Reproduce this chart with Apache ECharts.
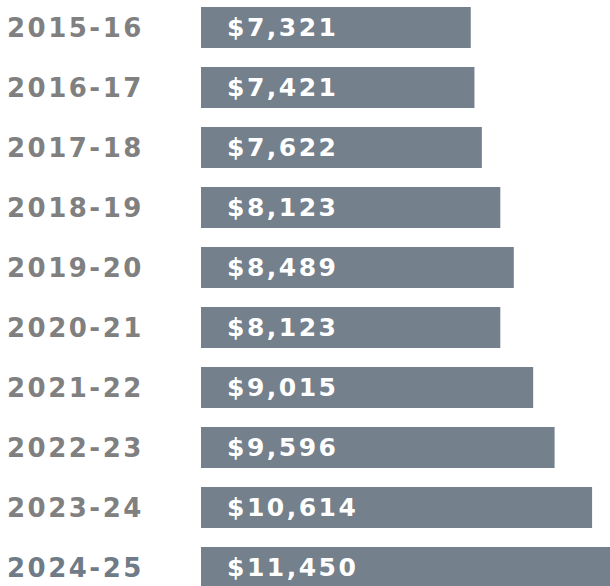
<!DOCTYPE html>
<html>
<head>
<meta charset="utf-8">
<script src="https://cdn.jsdelivr.net/npm/echarts@6/dist/echarts.min.js"></script>
<style>
  html, body { margin: 0; padding: 0; background: #fff; }
  #chart { width: 610px; height: 586px; }
  /* 参考图字体较宽，用字距补一点 */
  #chart text { letter-spacing: 2.5px; }
</style>
</head>
<body>
<div id="chart"></div>
<script>
// 各年度数值
var years = ["2015-16", "2016-17", "2017-18", "2018-19", "2019-20", "2020-21", "2021-22", "2022-23", "2023-24", "2024-25"];
var amounts = [7321, 7421, 7622, 8123, 8489, 8123, 9015, 9596, 10614, 11450];

var barColor = "#74808c";
var labelFont = "DejaVu Sans";

var chart = echarts.init(document.getElementById("chart"), null, { renderer: "svg" });
chart.setOption({
  animation: false,
  grid: {
    left: 201,
    right: 0,
    top: -2.5,
    height: 600,
    containLabel: false,
    outerBoundsMode: "none"
  },
  xAxis: {
    type: "value",
    min: 0,
    max: 11100,
    show: false
  },
  yAxis: {
    type: "category",
    inverse: true,
    data: years,
    axisLine: { show: false },
    axisTick: { show: false },
    splitLine: { show: false },
    axisLabel: {
      show: true,
      align: "left",
      margin: 194,
      fontFamily: labelFont,
      fontSize: 26,
      fontWeight: "bold",
      color: function(value, index) {
        return index === years.length - 1 ? "#6f7b87" : "#808080";
      }
    }
  },
  series: [
    {
      type: "bar",
      data: amounts,
      barWidth: 41,
      itemStyle: { color: barColor },
      label: {
        show: true,
        position: "insideLeft",
        distance: 26,
        color: "#ffffff",
        fontFamily: labelFont,
        fontSize: 25,
        fontWeight: "bold",
        formatter: function(p) {
          return "$" + p.value.toLocaleString("en-US");
        }
      }
    }
  ]
});
</script>
</body>
</html>
